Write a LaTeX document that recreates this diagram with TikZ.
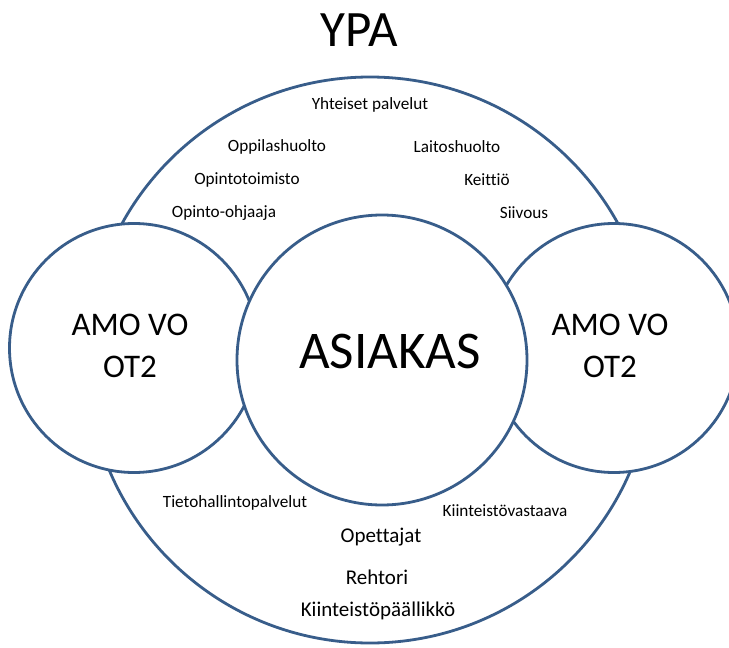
\documentclass[tikz,border=0pt]{standalone}
\usepackage{fontspec}
\setmainfont{Carlito}[Ligatures=NoCommon]
\definecolor{ringblue}{RGB}{56,93,138}
\begin{document}
\begin{tikzpicture}[x=1pt,y=-1pt,
    ring/.style={circle, draw=ringblue, line width=2.8pt, fill=white, inner sep=0pt},
    small/.style={font=\fontsize{17.2}{20}\selectfont, inner sep=0pt},
    mid/.style={font=\fontsize{21}{25}\selectfont, inner sep=0pt},
    big/.style={font=\fontsize{33}{42}\selectfont, align=center, inner sep=0pt}]
\useasboundingbox (0,0) rectangle (729,648);
\clip (0,0) rectangle (729,648);
\node[ring, minimum size=566pt] (ypa) at (370,360) {}; % YPA ring
\node[ring, minimum size=249pt] (amol) at (134,348) {}; % left ring
\node[ring, minimum size=249pt] (amor) at (614,348) {}; % right ring
\node[ring, minimum size=290pt] (asiakas) at (382,360) {}; % centre ring
\node[font=\fontsize{51}{60}\selectfont, inner sep=0pt] (title) at (359,30) {YPA};
\node[font=\fontsize{53}{62}\selectfont, inner sep=0pt] (asiakastxt) at (390,351) {ASIAKAS};
\node[big] (amoltxt) at (130,346) {AMO VO\\OT2};
\node[big] (amortxt) at (610,346) {AMO VO\\OT2};
\node[small] (yht) at (370,105) {Yhteiset palvelut};
\node[small] (oppi) at (277,147) {Oppilashuolto};
\node[small] (laito) at (457,147) {Laitoshuolto};
\node[small] (opto) at (247,180) {Opintotoimisto};
\node[small] (keit) at (487,180) {Keittiö};
\node[small] (opoh) at (224,213) {Opinto-ohjaaja};
\node[small] (siiv) at (524,213) {Siivous};
\node[small] (tieto) at (235,503) {Tietohallintopalvelut};
\node[small] (kvast) at (505,511) {Kiinteistövastaava};
\node[mid] (opet) at (381,537) {Opettajat};
\node[mid] (reht) at (377,577) {Rehtori};
\node[mid] (kpaal) at (378,611) {Kiinteistöpäällikkö};
\end{tikzpicture}
\end{document}
